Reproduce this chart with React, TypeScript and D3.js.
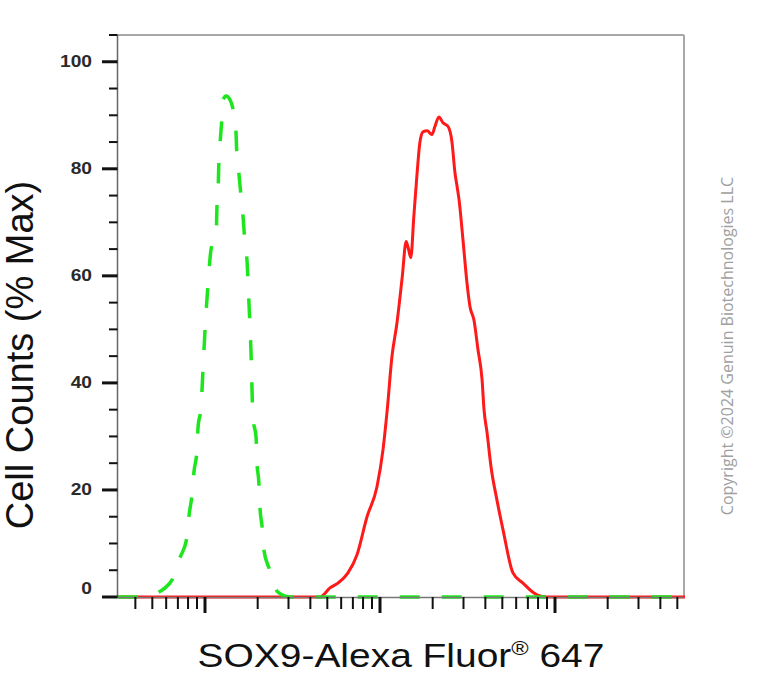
import React from "react";
import * as d3 from "d3";

// Isotype control (green dashed)
const greenX = [3.18, 4.85, 5.32, 5.91, 6.48, 7.19, 7.89, 8.11, 8.43, 8.65, 9.0, 9.12, 9.49, 9.74, 10.0, 10.3, 10.5, 10.8, 11.6, 11.7, 11.9, 12.0, 12.2, 12.5, 12.7, 13.2, 13.9, 14.5, 15.0, 15.2, 15.6, 16.1, 16.5, 16.9, 17.4, 17.8, 18.3, 18.8, 19.6, 19.8, 20.3, 20.6, 21.2, 21.7, 23.2, 26.1, 30.6, 5530];
const greenY = [0, 0, 0.7, 1.7, 3.2, 7.3, 11.2, 15.3, 19.1, 23.4, 27.5, 31.6, 35.5, 42.4, 49.9, 56.4, 60.2, 64.7, 68.2, 72.9, 76.6, 81.3, 84.9, 89.5, 92.9, 93.6, 92.9, 91.0, 87.5, 82.8, 79.3, 74.6, 71.0, 66.4, 62.6, 55.5, 46.2, 33.5, 29.7, 25.2, 21.5, 16.8, 13.1, 8.8, 5.4, 0.9, 0, 0];

// SOX9 stained (red solid)
const redX = [3.18, 39.8, 45.4, 51.8, 57.5, 65.6, 73.9, 84.3, 96.1, 104, 110, 117, 125, 134, 141, 145, 150, 156, 163, 169, 176, 186, 198, 206, 217, 229, 245, 258, 268, 276, 283, 298, 314, 327, 344, 363, 383, 393, 409, 431, 466, 505, 575, 656, 789, 900, 5530];
const redY = [0, 0, 0, 1.7, 2.6, 4.5, 7.9, 15.0, 20.6, 27.5, 35.0, 44.9, 51.2, 59.8, 66.4, 65.2, 63.4, 71.0, 79.3, 84.9, 86.9, 87.1, 86.4, 87.9, 89.7, 88.6, 87.9, 84.9, 79.3, 76.6, 74.2, 66.7, 58.7, 54.2, 51.8, 46.2, 40.6, 35.0, 30.7, 24.3, 18.1, 12.5, 4.5, 2.6, 0.4, 0, 0];

const yTickLabels = [0, 20, 40, 60, 80, 100];
const yMinorStep = 5;
const xMajorTicks = [10, 100, 1000];

const xTitle = "SOX9-Alexa Fluor";
const xTitleSup = "®";
const xTitleEnd = " 647";
const yTitle = "Cell Counts (% Max)";
const copyright = "Copyright ©2024 Genuin Biotechnologies LLC";

export default function App() {
  const W = 767, H = 690;
  const left = 117.5, right = 684, top = 35, bottom = 597;
  const x = d3.scaleLog().domain([Math.pow(10, 0.5), Math.pow(10, 3.75)]).range([left, 686.25]);
  const y = d3.scaleLinear().domain([0, 105]).range([bottom, top]);

  const green = greenX.map((v, i) => [v, greenY[i]] as [number, number]);
  const red = redX.map((v, i) => [v, redY[i]] as [number, number]);
  const line = d3.line<[number, number]>().x(d => x(d[0])).y(d => y(d[1])).curve(d3.curveMonotoneX);

  const yTicks = d3.range(0, 105 + 0.01, yMinorStep);
  const xTicks = x.ticks().filter(t => t >= x.domain()[0] && t <= 5500);

  return (
    <svg width={W} height={H} style={{ position: "absolute", left: 0, top: 0, background: "#fff" }} fontFamily="'Liberation Sans', Arial, sans-serif">
      {/* frame */}
      <line x1={left} x2={right} y1={top} y2={top} stroke="#a8a8a8" strokeWidth={2} />
      <line x1={right} x2={right} y1={top} y2={bottom} stroke="#a8a8a8" strokeWidth={2} />
      {/* curves */}
      <path d={line(red) || ""} fill="none" stroke="#ff1a1a" strokeWidth={3} strokeLinejoin="round" />
      <path d={line(green) || ""} fill="none" stroke="#1ee61e" strokeWidth={3.5} strokeDasharray="20 22" />
      {/* axes */}
      <line x1={left} x2={left} y1={top} y2={bottom + 1} stroke="#666" strokeWidth={1.5} />
      <line x1={left} x2={right} y1={bottom + 0.5} y2={bottom + 0.5} stroke="#777" strokeWidth={1.5} />
      {yTicks.map(t => {
        const major = t % 20 === 0;
        return <line key={"yt" + t} x1={major ? 102 : 109} x2={left} y1={y(t)} y2={y(t)} stroke="#111" strokeWidth={major ? 3 : 2} />;
      })}
      {yTickLabels.map(t => (
        <text key={"yl" + t} transform={`translate(92,${y(t) - (t === 0 ? 8 : 0)}) scale(1.2,1)`} textAnchor="end" dominantBaseline="central" fontSize={16} fontWeight="bold" fill="#2a2a2a">{t}</text>
      ))}
      {xTicks.map(t => {
        const major = xMajorTicks.includes(t);
        return <line key={"xt" + t} x1={x(t)} x2={x(t)} y1={bottom} y2={major ? 613 : 609} stroke="#111" strokeWidth={major ? 3 : 2} />;
      })}
      {/* titles */}
      <text transform="translate(401,667) scale(1.18,1)" textAnchor="middle" fontSize={33} fill="#111">
        {xTitle}
        <tspan fontSize={20} dy={-12}>{xTitleSup}</tspan>
        <tspan dy={12}>{xTitleEnd}</tspan>
      </text>
      <text transform="translate(33,355) rotate(-90)" textAnchor="middle" fontSize={38} fill="#111">{yTitle}</text>
      <text transform="translate(733,346) rotate(-90)" textAnchor="middle" fontSize={16} fill="#a0a0a0" fontFamily="'Open Sans', sans-serif">{copyright}</text>
    </svg>
  );
}
